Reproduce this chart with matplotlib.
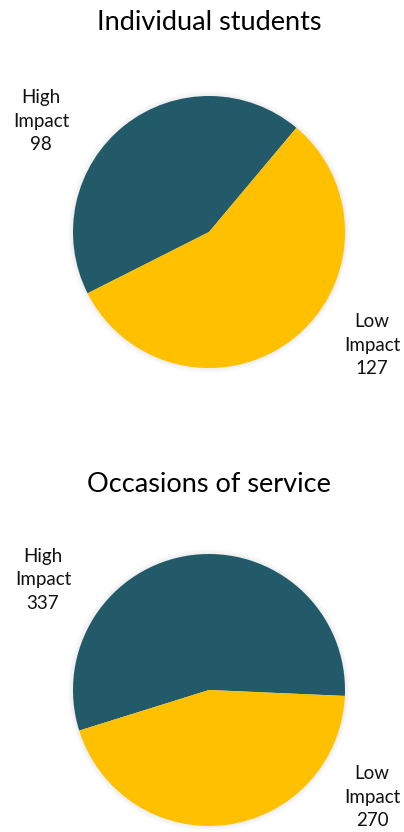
import matplotlib
matplotlib.use("Agg")
import matplotlib.pyplot as plt
from matplotlib.patches import Circle

# data
categories = ["High Impact", "Low Impact"]
students = [98, 127]
occasions = [337, 270]
titles = ["Individual students", "Occasions of service"]

DARK = "#235A69"
YELLOW = "#FFC000"

plt.rcParams['font.family'] = ['Lato', 'DejaVu Sans']

fig = plt.figure(figsize=(4.04, 8.32), dpi=100)
ax = fig.add_axes([0, 0, 1, 1])
ax.set_xlim(0, 404)
ax.set_ylim(0, 832)
ax.set_aspect("equal")
ax.axis("off")

H = 832


def draw_pie(values, title, cy, title_y, start, high_xy, low_xy):
    cx, r = 209, 136
    # soft shadow
    for i in range(6):
        ax.add_patch(Circle((cx, H - cy), r + 0.5 + i * 0.9, color="black",
                            alpha=0.012, lw=0, zorder=0))
    ax.pie(values, colors=[DARK, YELLOW], startangle=start, counterclock=True,
           center=(cx, H - cy), radius=r, frame=True,
           wedgeprops=dict(linewidth=0))
    ax.text(cx, H - title_y, title, ha="center", va="center", fontsize=19.5,
            color="#000000")
    for (x, y), name, v in zip([high_xy, low_xy], categories, values):
        ax.text(x, H - y, name.replace(" ", "\n") + "\n" + str(v),
                ha="center", va="center", fontsize=13.5, linespacing=1.45,
                color="#111111")


draw_pie(students, titles[0], 232, 23, 50.0, (41, 121), (372, 345))
draw_pie(occasions, titles[1], 690, 484, -2.5, (43, 580), (372, 797))

ax.set_xlim(0, 404)
ax.set_ylim(0, 832)
ax.axis("off")

fig.savefig("out.png", dpi=100, facecolor="white")
